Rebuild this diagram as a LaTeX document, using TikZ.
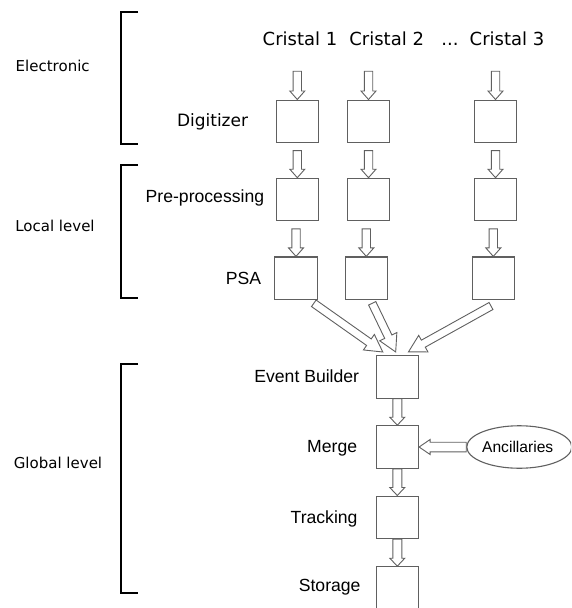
\documentclass[tikz,border=0pt]{standalone}
\usepackage{fontspec}
\setmainfont{DejaVu Sans}
\newfontfamily\lib{Liberation Sans}
\usetikzlibrary{calc,shapes.geometric}
\pgfdeclarelayer{bg}
\pgfsetlayers{bg,main}
\definecolor{boxgray}{HTML}{606060}
\tikzset{
  box/.style={draw=boxgray, fill=white, line width=1.1pt, minimum width=42.5pt, minimum height=42.5pt, inner sep=0pt},
  blk/.style={draw=boxgray, fill=white, line width=0.9pt, line join=miter},
  brk/.style={line width=2pt, black},
  side/.style={font=\fontsize{15}{18}\selectfont, inner sep=0pt, anchor=base},
  crys/.style={font=\fontsize{18}{21}\selectfont, inner sep=0pt, anchor=base},
  rowA/.style={font=\fontsize{17}{20}\selectfont, inner sep=0pt, anchor=base east},
  rowB/.style={font=\lib\fontsize{17.6}{20}\selectfont, inner sep=0pt, anchor=base east},
  ell/.style={draw=boxgray, fill=white, line width=1.1pt, ellipse, minimum width=105pt, minimum height=42.5pt, inner sep=0pt},
}
% block arrow: from, to, shaft half width, head half width, head length
\newcommand\barrow[5]{%
  \draw[blk] let \p1=#1, \p2=#2, \n1={atan2(\y2-\y1,\x2-\x1)}, \n2={veclen(\x2-\x1,\y2-\y1)} in
  [shift={(\p1)}, rotate=\n1]
  (0,-#3) -- (\n2-#5,-#3) -- (\n2-#5,-#4) -- (\n2,0) -- (\n2-#5,#4) -- (\n2-#5,#3) -- (0,#3) -- cycle;}
\begin{document}
\begin{tikzpicture}[x=1pt,y=-1pt]
\useasboundingbox (0,0) rectangle (571,608);
\clip (0,0) rectangle (571,608);
% brackets
\draw[brk] (138,11.7) -- (120.7,11.7) -- (120.7,144) -- (138,144);
\draw[brk] (138,165.3) -- (120.7,165.3) -- (120.7,297.7) -- (138,297.7);
\draw[brk] (138,364.3) -- (120.7,364.3) -- (120.7,592.7) -- (138,592.7);
\node[side] (lel) at (52.7,71) {Electronic};
\node[side] (lloc) at (55,231.5) {Local level};
\node[side] (lglo) at (58,468) {Global level};
% crystal labels
\node[crys] (c1) at (300,45) {Cristal 1};
\node[crys] (c2) at (386.7,45) {Cristal 2};
\node[crys] (cd) at (450,45) {...};
\node[crys] (c3) at (507,45) {Cristal 3};
% boxes
\node[box] (d1) at (297.3,121.3) {};
\node[box] (d2) at (368.5,121.3) {};
\node[box] (d3) at (495.5,121.3) {};
\node[box] (p1) at (297.3,199.5) {};
\node[box] (p2) at (368.5,199.5) {};
\node[box] (p3) at (495.5,199.5) {};
\node[box] (s1) at (296,278.2) {};
\node[box] (s2) at (366.3,278.2) {};
\node[box] (s3) at (493.3,278.2) {};
\node[box] (eb) at (397.3,376.8) {};
\node[box] (mg) at (397.3,447) {};
\node[box] (tr) at (397.3,517.3) {};
\node[box] (st) at (397.3,588) {};
\node[ell] (an) at (519.3,447) {};
\node[font=\lib\fontsize{15.6}{18}\selectfont, inner sep=0pt, anchor=base] (ant) at (517.7,452.7) {Ancillaries};
% row labels
\node[rowA] (ldig) at (248.3,126.7) {Digitizer};
\node[rowB] (lpre) at (264.3,202.3) {Pre-processing};
\node[rowB] (lpsa) at (261.3,284) {PSA};
\node[rowB] (leb) at (359.3,382.3) {Event Builder};
\node[rowB] (lmg) at (357.3,452.7) {Merge};
\node[rowB] (ltr) at (357.7,523.3) {Tracking};
\node[rowB] (lst) at (360.7,591) {Storage};
\begin{pgfonlayer}{bg}
% vertical arrows
\foreach \b in {d1,d2,d3}{\barrow{($(\b.north)+(0,-28.3)$)}{(\b.north)}{4.2}{7.5}{8.5}}
\barrow{($(d1.south)+(0,7.5)$)}{(p1.north)}{4.2}{7.5}{8.5}
\barrow{($(d2.south)+(0,7.5)$)}{(p2.north)}{4.2}{7.5}{8.5}
\barrow{($(d3.south)+(0,7.5)$)}{(p3.north)}{4.2}{7.5}{8.5}
\barrow{($(s1.north|-p1.south)+(0,7.5)$)}{(s1.north)}{4.2}{7.5}{8.5}
\barrow{($(s2.north|-p2.south)+(0,7.5)$)}{(s2.north)}{4.2}{7.5}{8.5}
\barrow{($(s3.north|-p3.south)+(0,7.5)$)}{(s3.north)}{4.2}{7.5}{8.5}
% diagonal arrows
\barrow{($(s1.south east)+(-4,3.3)$)}{($(eb.north west)+(7.3,-3)$)}{4}{9.5}{17}
\barrow{($(s2.south)+(5.9,3.3)$)}{($(eb.north)+(-1.6,-3)$)}{4}{9.5}{17}
\barrow{($(s3.south)+(-2.3,6)$)}{($(eb.north)+(11,-3)$)}{4}{9.5}{17}
% global chain
\barrow{(eb.south)}{(mg.north)}{4.5}{7.5}{8}
\barrow{(mg.south)}{(tr.north)}{4.5}{7.5}{8}
\barrow{(tr.south)}{(st.north)}{4.5}{7.5}{8}
\barrow{(an.west)}{(mg.east)}{4.8}{7.5}{11}
\end{pgfonlayer}
\end{tikzpicture}
\end{document}
